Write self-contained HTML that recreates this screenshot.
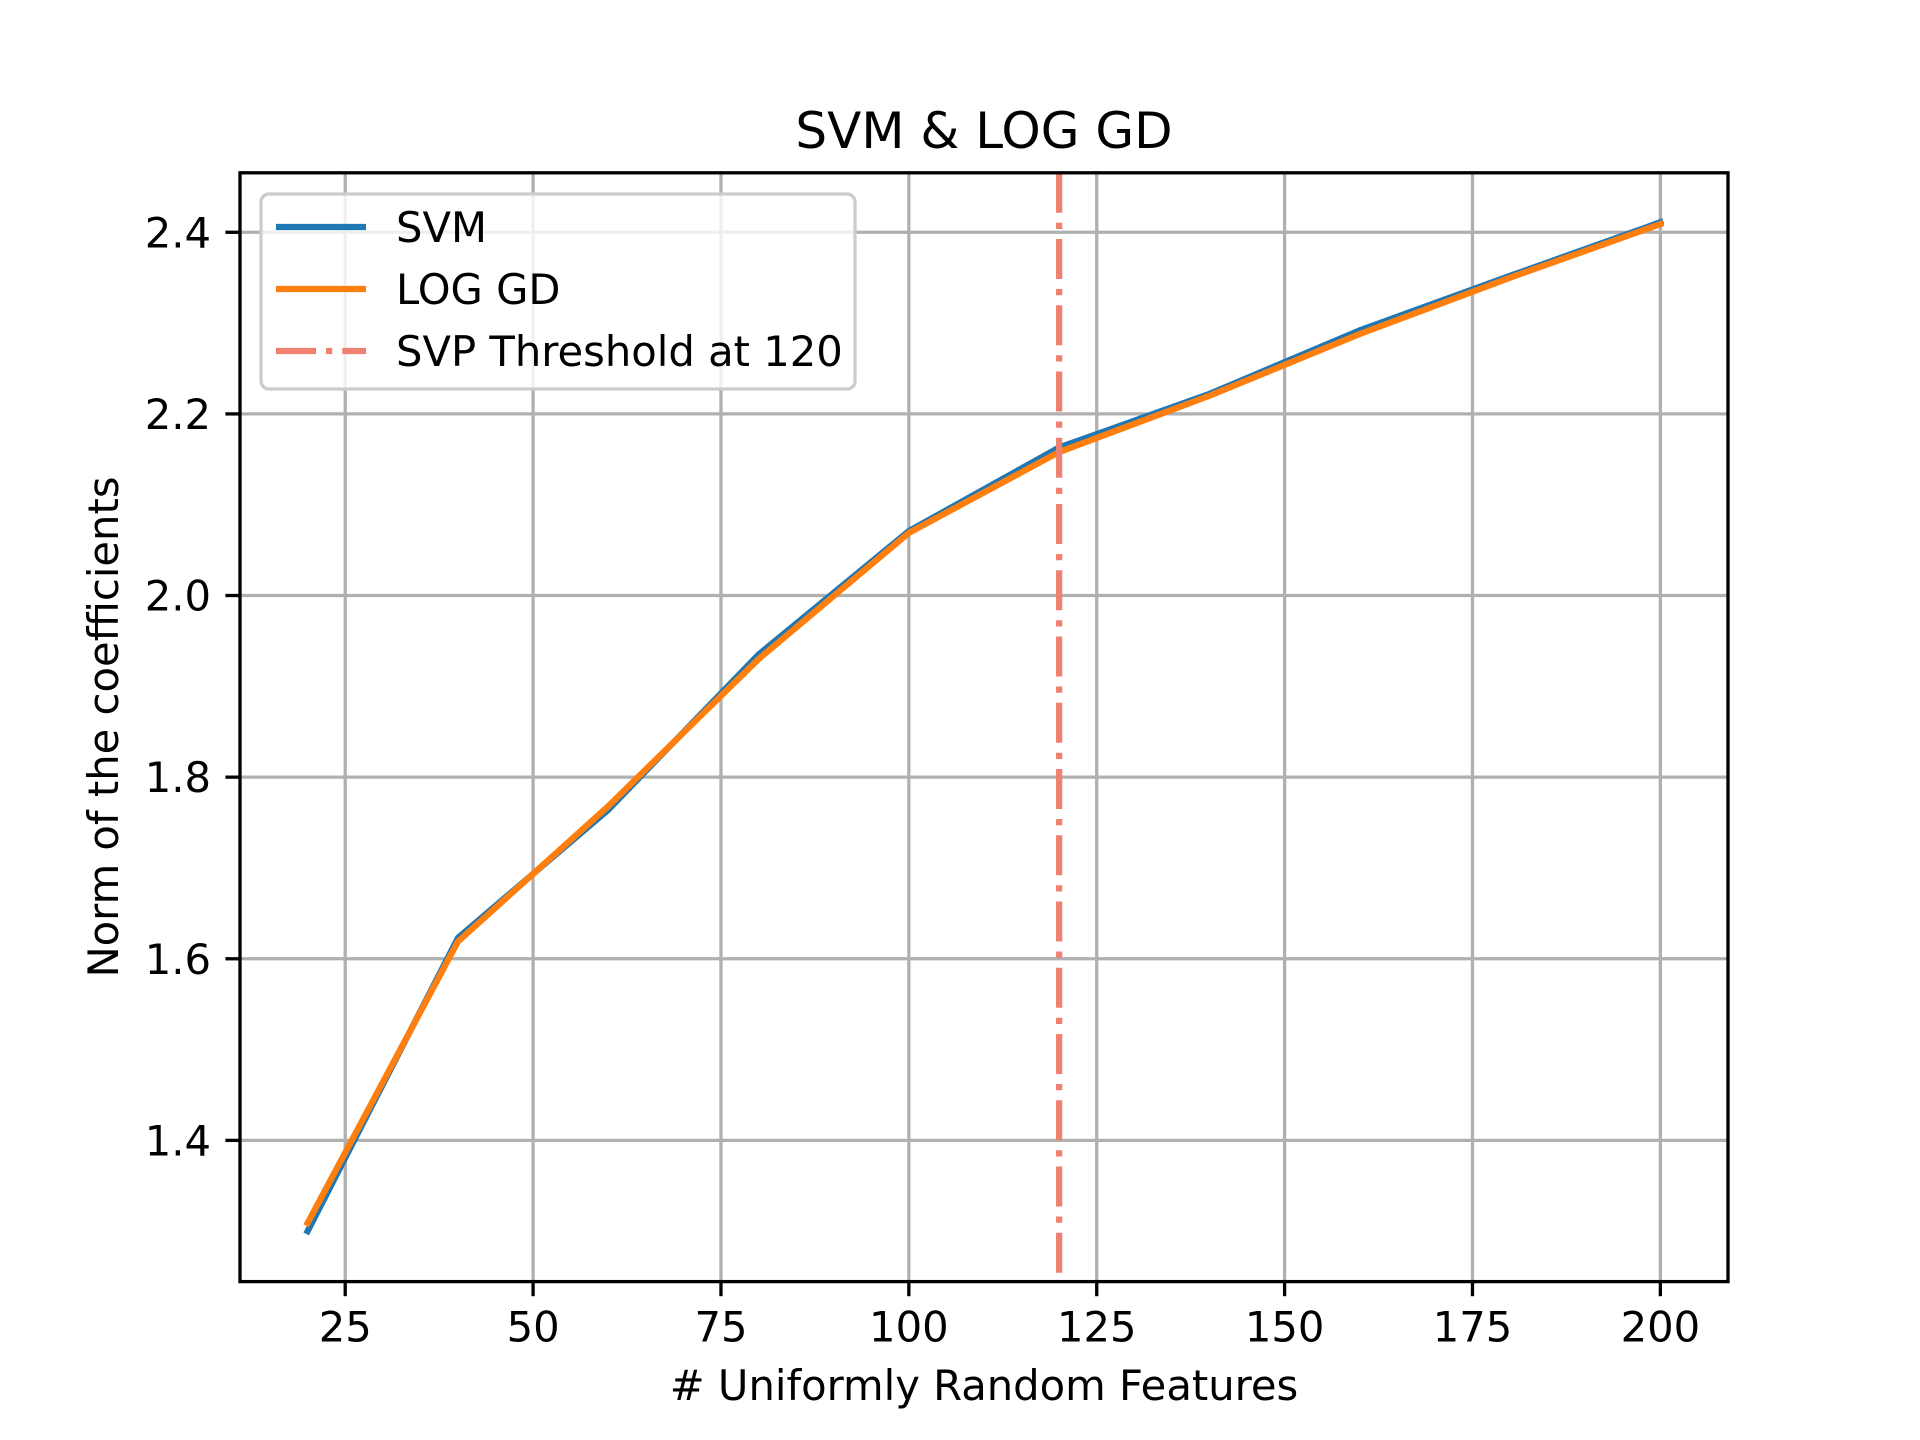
<!DOCTYPE html>
<html><head><meta charset="utf-8"><style>
html,body{margin:0;padding:0;background:#fff;}
svg{display:block;font-family:"DejaVu Sans","Liberation Sans",sans-serif;}
</style></head><body>
<svg id="chart" width="1920" height="1440" viewBox="0 0 1920 1440" xmlns="http://www.w3.org/2000/svg">
<rect width="1920" height="1440" fill="#fff"/>
<g id="grid"></g>
<g id="ticks"></g>
<g id="series"></g>
<rect x="240" y="172.8" width="1488" height="1108.8" fill="none" stroke="#000" stroke-width="3.3"/>
<text x="984" y="148" font-size="50" text-anchor="middle">SVM &amp; LOG GD</text>
<text x="984" y="1400" font-size="41.7" text-anchor="middle"># Uniformly Random Features</text>
<text transform="translate(118,727) rotate(-90)" font-size="41.7" text-anchor="middle">Norm of the coefficients</text>
<g>
<rect x="261" y="194" width="594" height="195" rx="8" fill="#fff" fill-opacity="0.8" stroke="#cccccc" stroke-width="3.3"/>
<line x1="276" y1="227" x2="366" y2="227" stroke="#1f77b4" stroke-width="6.25"/>
<text x="396" y="242" font-size="41.7">SVM</text>
<line x1="276" y1="289" x2="366" y2="289" stroke="#ff7f0e" stroke-width="6.25"/>
<text x="396" y="304" font-size="41.7">LOG GD</text>
<line x1="276" y1="351" x2="366" y2="351" stroke="#f08070" stroke-width="6.25" stroke-dasharray="40,10,6.25,10"/>
<text x="396" y="366" font-size="41.7">SVP Threshold at 120</text>
</g>
</svg>
<script>
const xValues=[20,40,60,80,100,120,140,160,180,200];
const svmValues=[1.300,1.623,1.764,1.935,2.071,2.163,2.222,2.292,2.352,2.411];
const logValues=[1.309,1.619,1.768,1.930,2.069,2.158,2.220,2.288,2.350,2.409];
const xTicks=[25,50,75,100,125,150,175,200];
const yTicks=[1.4,1.6,1.8,2.0,2.2,2.4];
const threshold=120;
const NS="http://www.w3.org/2000/svg";
const L=240,R=1728,T=172.8,B=1281.6;
const xmin=11,xmax=209,ymin=1.2445,ymax=2.4655;
const sx=v=>L+(v-xmin)/(xmax-xmin)*(R-L);
const sy=v=>B-(v-ymin)/(ymax-ymin)*(B-T);
function mk(tag,attrs,parent){const e=document.createElementNS(NS,tag);for(const k in attrs)e.setAttribute(k,attrs[k]);parent.appendChild(e);return e;}
const grid=document.getElementById('grid'),ticks=document.getElementById('ticks'),series=document.getElementById('series');
xTicks.forEach(t=>{
  const g=mk('line',{x1:sx(t),x2:sx(t),y1:T,y2:B,stroke:'#b0b0b0','stroke-width':3.3},grid);
  
  
  const tk=mk('line',{x1:sx(t),x2:sx(t),y1:B,y2:B+14.6,stroke:'#000','stroke-width':3.3},ticks);
  
  
  const tx=mk('text',{x:sx(t),y:B+60,'font-size':41.7,'text-anchor':'middle'},ticks);
  tx.textContent=String(t);
  
  
});
yTicks.forEach(t=>{
  const g=mk('line',{x1:L,x2:R,y1:sy(t),y2:sy(t),stroke:'#b0b0b0','stroke-width':3.3},grid);
  
  
  const tk=mk('line',{x1:L-14.6,x2:L,y1:sy(t),y2:sy(t),stroke:'#000','stroke-width':3.3},ticks);
  
  
  const tx=mk('text',{x:L-29,y:sy(t)+15,'font-size':41.7,'text-anchor':'end'},ticks);
  tx.textContent=t.toFixed(1);
  
  
});
function line(vals,color,name){
  const p=mk('polyline',{points:xValues.map((x,i)=>sx(x)+','+sy(vals[i])).join(' '),fill:'none',stroke:color,'stroke-width':6.25,'stroke-linejoin':'round','stroke-linecap':'square'},series);
  
  
}
line(svmValues,'#1f77b4','svm-line');
line(logValues,'#ff7f0e','log-gd-line');
const th=mk('line',{x1:sx(threshold),x2:sx(threshold),y1:T,y2:B,stroke:'#f08070','stroke-width':6.25,'stroke-dasharray':'40,10,6.25,10'},series);


</script>
</body></html>
